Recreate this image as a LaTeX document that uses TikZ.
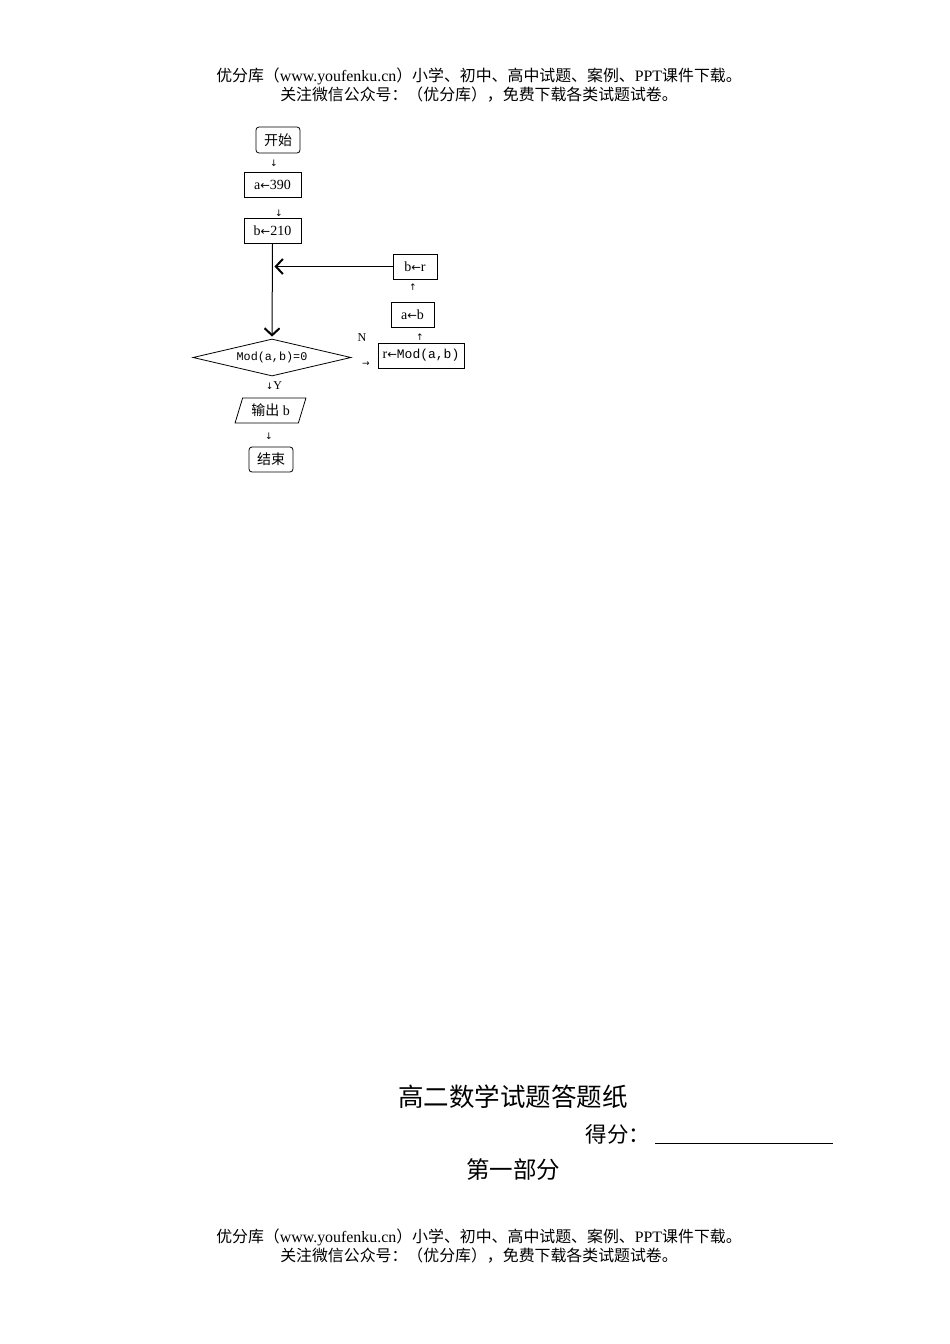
\documentclass[tikz,border=0pt]{standalone}
\usepackage{fontspec}
\setmainfont{Liberation Serif}
\newfontfamily\cjk{Noto Sans CJK SC}
\newfontfamily\arr{DejaVu Sans}
\newfontfamily\mono{Liberation Mono}
\usetikzlibrary{shapes.geometric,arrows.meta}
\newcommand{\la}{{\arr\fontsize{11.5}{11.5}\selectfont ←}}
\begin{document}
\begin{tikzpicture}[x=1pt,y=-1pt,
  fc/.style={draw, line width=0.8pt, inner sep=0pt, font=\fontsize{14}{14}\selectfont},
  rbox/.style={fc, rounded corners=3pt},
  glyph/.style={inner sep=0pt, font=\arr\fontsize{9}{9}\selectfont},
  lbl/.style={inner sep=0pt, font=\fontsize{12}{12}\selectfont},
  hdr/.style={inner sep=0pt, font=\fontsize{15.9}{15.9}\selectfont},
  flow/.style={line width=1pt, -{Straight Barb[length=7pt,width=15pt,line width=2pt]}, shorten >=2pt}
]
\useasboundingbox (0,0) rectangle (950,1344);
% header
\node[hdr] (h1) at (479,76) {{\cjk 优分库（}www.youfenku.cn{\cjk ）小学、初中、高中试题、案例、}PPT{\cjk 课件下载。}};
\node[hdr] (h2) at (479,95) {\cjk 关注微信公众号：（优分库），免费下载各类试题试卷。};
% flowchart
\node[rbox, minimum width=44pt, minimum height=26pt] (start) at (278,140) {\cjk 开始};
\node[glyph] (g1) at (274,163) {↓};
\node[fc, minimum width=57pt, minimum height=25pt] (a390) at (272.5,184.5) {a\la390};
\node[glyph] (g2) at (279,213) {↓};
\node[fc, minimum width=57pt, minimum height=25pt] (b210) at (272.5,231) {b\la210};
\node[fc, minimum width=44pt, minimum height=25pt] (brr) at (415,266.5) {b\la r};
\node[glyph] (g3) at (413,287) {↑};
\node[fc, minimum width=43pt, minimum height=25pt] (ab) at (412.5,314.5) {a\la b};
\node[lbl] (N) at (362,338) {N};
\node[glyph] (g4) at (420,337) {↑};
\node[fc, minimum width=86pt, minimum height=25pt] (rmod) at (421,355.5) {r\la{\mono\fontsize{13}{13}\selectfont Mod(a,b)}};
\node[glyph] (g5) at (366,364) {→};
\node[fc, diamond, aspect=4.27, minimum width=158pt, minimum height=37pt] (dia) at (272,357.5) {\mono\fontsize{11.8}{11.8}\selectfont Mod(a,b)=0};
\node[lbl] (Y) at (274,386) {{\arr\fontsize{9}{9}\selectfont ↓}Y};
\node[fc, trapezium, trapezium left angle=68, trapezium right angle=112, trapezium stretches=true, minimum width=71pt, minimum height=25pt] (out) at (270.5,410.5) {{\cjk 输出} b};
\node[glyph] (g6) at (269,436) {↓};
\node[rbox, minimum width=44pt, minimum height=25pt] (stop) at (271,459.5) {\cjk 结束};
\draw[flow] (b210.south) -- (dia.north);
\coordinate (join) at (brr.west -| b210.south);
\draw[flow] (brr.west) -- (join);
% answer sheet title
\node[inner sep=0pt, font=\cjk\fontsize{25.5}{25.5}\selectfont] (title) at (513,1097) {高二数学试题答题纸};
\node[inner sep=0pt, font=\cjk\fontsize{21.5}{21.5}\selectfont] (score) at (618,1134) {得分：};
\coordinate (u1) at (655,1143);
\coordinate (u2) at (833,1143);
\draw[line width=1pt] (u1) -- (u2);
\node[inner sep=0pt, font=\cjk\fontsize{23.5}{23.5}\selectfont] (part) at (513,1170) {第一部分};
% footer
\node[hdr] (f1) at (479,1237) {{\cjk 优分库（}www.youfenku.cn{\cjk ）小学、初中、高中试题、案例、}PPT{\cjk 课件下载。}};
\node[hdr] (f2) at (479,1256) {\cjk 关注微信公众号：（优分库），免费下载各类试题试卷。};
\end{tikzpicture}
\end{document}
